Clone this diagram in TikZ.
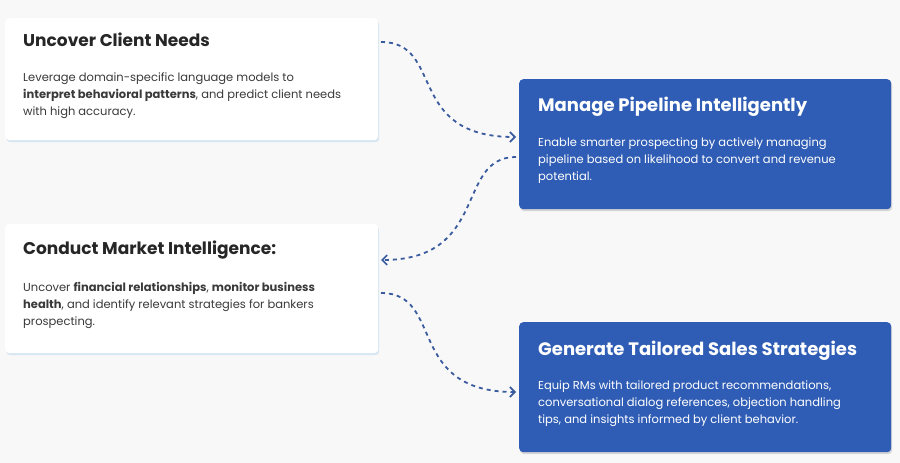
\documentclass[tikz,border=0pt]{standalone}
\usepackage{fontspec}
\setmainfont{Poppins}
\usetikzlibrary{positioning,arrows.meta,shadows}
\definecolor{bgcol}{HTML}{F8F8F9}
\definecolor{boxblue}{HTML}{2F5DB5}
\definecolor{linkblue}{HTML}{3A5C9E}
\definecolor{inkgray}{HTML}{3A3A3A}
\definecolor{glow}{HTML}{D6E6F2}
\tikzset{
	x=1pt,y=-1pt,
	card/.style={rounded corners=4pt, anchor=north west, inner sep=0},
	whitecard/.style={card, fill=white, drop shadow={shadow xshift=1pt, shadow yshift=-2pt, fill=glow, opacity=1}},
	bluecard/.style={card, fill=boxblue, drop shadow={shadow xshift=1pt, shadow yshift=-2pt, fill=black!25, opacity=0.6}},
	cardtitle/.style={anchor=north west, inner sep=0, font=\fontsize{17}{22}\selectfont\bfseries},
	cardbody/.style={anchor=north west, inner sep=0, align=left, font=\fontsize{11.5}{17}\selectfont},
	link/.style={linkblue, line width=1.8pt, dash pattern=on 4pt off 4pt, -{Straight Barb[length=5pt,width=10pt,line width=1.6pt]}}
}
\begin{document}
\begin{tikzpicture}
	\fill[bgcol] (0,0) rectangle (900,463);
	\useasboundingbox (0,0) rectangle (900,463);

	% cards
	\node[whitecard, minimum width=373pt, minimum height=122pt] (needs) at (5,18) {};
	\node[bluecard, minimum width=372pt, minimum height=130pt] (pipe) at (519,79) {};
	\node[whitecard, minimum width=373pt, minimum height=129pt] (market) at (5,224) {};
	\node[bluecard, minimum width=372pt, minimum height=130pt] (sales) at (519,322) {};

	% texts
	\node[cardtitle, text=black!85] (needsT) at (23,33) {Uncover Client Needs};
	\node[cardbody, text=inkgray] (needsB) at (23,73) {Leverage domain-specific language models to\\ \textbf{interpret behavioral patterns}, and predict client needs\\ with high accuracy.};
	\node[cardtitle, text=white] (pipeT) at (538,97) {\fontsize{18}{22}\selectfont Manage Pipeline Intelligently};
	\node[cardbody, text=white] (pipeB) at (538,138) {Enable smarter prospecting by actively managing\\ pipeline based on likelihood to convert and revenue\\ potential.};
	\node[cardtitle, text=black!85] (marketT) at (23,241) {Conduct Market Intelligence:};
	\node[cardbody, text=inkgray] (marketB) at (23,282) {Uncover \textbf{financial relationships}, \textbf{monitor business}\\ \textbf{health}, and identify relevant strategies for bankers\\ prospecting.};
	\node[cardtitle, text=white] (salesT) at (538,341) {\fontsize{18}{22}\selectfont Generate Tailored Sales Strategies};
	\node[cardbody, text=white] (salesB) at (538,381) {Equip RMs with tailored product recommendations,\\ conversational dialog references, objection handling\\ tips, and insights informed by client behavior.};

	% connectors
	\coordinate (a1) at (381,42);
	\coordinate (a2) at (516,137);
	\coordinate (b1) at (516,157);
	\coordinate (b2) at (381,260);
	\coordinate (c1) at (381,293);
	\coordinate (c2) at (516,392);
	\draw[link] (a1) .. controls (445,42) and (405,137) .. (a2);
	\draw[link] (b1) .. controls (455,157) and (490,260) .. (b2);
	\draw[link] (c1) .. controls (445,293) and (405,392) .. (c2);
\end{tikzpicture}
\end{document}
